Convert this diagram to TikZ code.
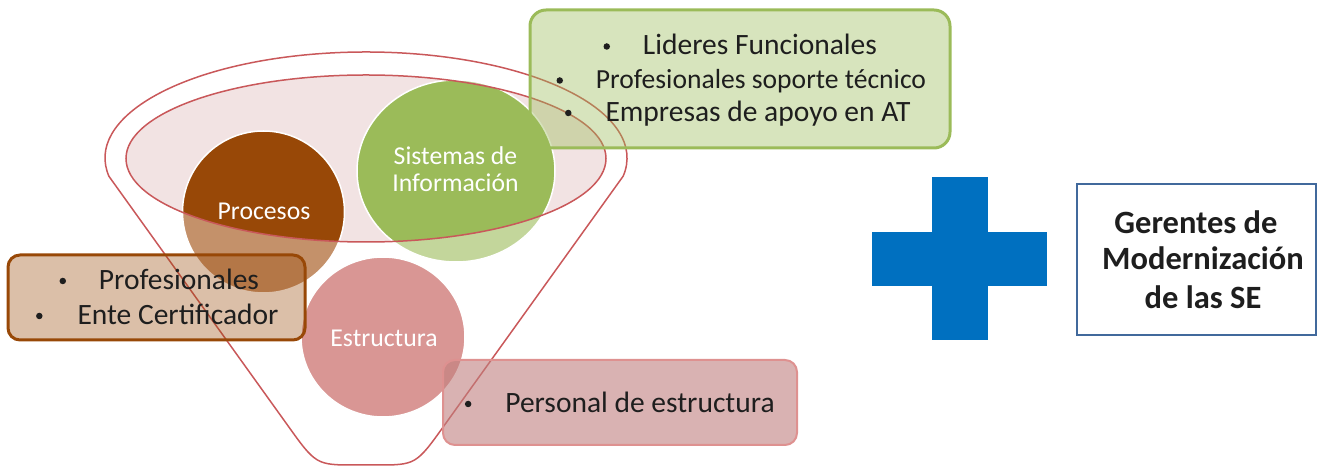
\documentclass[tikz,border=0pt]{standalone}
\usepackage{fontspec}
\setmainfont{Carlito}
\definecolor{proclight}{HTML}{C4916A}
\definecolor{procdark}{HTML}{984807}
\definecolor{sislight}{HTML}{C3D69B}
\definecolor{sisdark}{HTML}{9BBB59}
\definecolor{estr}{HTML}{D99694}
\definecolor{ellfill}{HTML}{F2E3E3}
\definecolor{funnelred}{HTML}{C9585A}
\definecolor{persfill}{HTML}{C07F7E}
\definecolor{persline}{HTML}{DE9190}
\definecolor{gerblue}{HTML}{41699C}
\definecolor{crossblue}{HTML}{0070C0}
\definecolor{txt}{HTML}{1E1E1E}
\begin{document}
\begin{tikzpicture}[x=1pt,y=1pt,
  lbl/.style={text=white, font=\fontsize{25.7}{27}\selectfont, anchor=base, inner sep=0pt},
  body/.style={text=txt, font=\fontsize{29.5}{33}\selectfont, anchor=base, inner sep=0pt},
  small/.style={body, font=\fontsize{27.6}{30}\selectfont},
  bullet/.style={circle, fill=txt, minimum size=6.5pt, inner sep=0pt},
  ger/.style={text=txt, font=\bfseries\fontsize{32.5}{37}\selectfont, anchor=base, inner sep=0pt},
  funnelline/.style={draw=funnelred, line width=1.5pt},
  circ/.style={draw=white, line width=1.5pt},
]
\useasboundingbox (0,0) rectangle (1318,468);

% circles, light parts (outside the inner ellipse)
\fill[proclight, circ] (263.5,256) circle[radius=81];
\fill[sislight, circ] (456,297) ellipse[x radius=99, y radius=91];
\fill[estr, circ] (383,131) ellipse[x radius=82, y radius=80];

% inner ellipse fill
\fill[ellfill] (366,309.5) ellipse[x radius=240, y radius=83.5];

% circles, dark parts (inside the inner ellipse)
\begin{scope}
  \clip (366,309.5) ellipse[x radius=240, y radius=83.5];
  \fill[procdark, circ] (263.5,256) circle[radius=81];
  \fill[sisdark, circ] (456,297) ellipse[x radius=99, y radius=91];
\end{scope}

% funnel
\draw[funnelline] (366,309.5) ellipse[x radius=240, y radius=83.5];
\draw[funnelline] (623,291.6) -- (445,43.6) .. controls (416,3) .. (376,3)
  -- (356,3) .. controls (316,3) .. (287,43.6) -- (109,291.6)
  arc[start angle=190, end angle=-10, x radius=261, y radius=106];

% boxes
\draw[draw=sisdark, line width=3pt, fill=sisdark, fill opacity=0.4, rounded corners=16pt]
  (530,458) rectangle (950,320);
\draw[draw=procdark, line width=3pt, fill=procdark, fill opacity=0.35, rounded corners=12pt]
  (8,213) rectangle (305,128);
\draw[draw=persline, line width=2pt, fill=persfill, fill opacity=0.6, rounded corners=12pt]
  (443,108) rectangle (797,23);

% plus sign
\fill[crossblue] (932,291) rectangle (988,128);
\fill[crossblue] (872,236) rectangle (1047,182);

% Gerentes box
\draw[gerblue, line width=2.7pt, fill=white] (1077,284) rectangle (1316,133);

% circle labels
\node[lbl] (proc) at (264,248.5) {Procesos};
\node[lbl] (sis1) at (455.5,303.5) {Sistemas de};
\node[lbl] (sis2) at (455.5,276.5) {Información};
\node[lbl] (estru) at (384,121.5) {Estructura};

% green box texts
\node[body] (g1) at (760,413) {Lideres Funcionales};
\node[small] (g2) at (761,379) {Profesionales soporte técnico};
\node[body] (g3) at (758,346.5) {Empresas de apoyo en AT};
\node[bullet] (gb1) at ([xshift=-36pt,yshift=8.5pt]g1.base west) {};
\node[bullet] (gb2) at ([xshift=-36pt,yshift=8.5pt]g2.base west) {};
\node[bullet] (gb3) at ([xshift=-37pt,yshift=8.5pt]g3.base west) {};

% brown box texts
\node[body] (b1) at (179,178.5) {Profesionales};
\node[body] (b2) at (178,143.5) {Ente Certificador};
\node[bullet] (bb1) at ([xshift=-36pt,yshift=8.5pt]b1.base west) {};
\node[bullet] (bb2) at ([xshift=-38pt,yshift=8.5pt]b2.base west) {};

% pink box text
\node[body] (p1) at (640,55.5) {Personal de estructura};
\node[bullet] (pb1) at ([xshift=-37pt,yshift=8.5pt]p1.base west) {};

% Gerentes text
\node[ger] (r1) at (1196,234) {Gerentes de};
\node[ger] (r2) at (1203,198) {Modernización};
\node[ger] (r3) at (1203,159) {de las SE};
\end{tikzpicture}
\end{document}
